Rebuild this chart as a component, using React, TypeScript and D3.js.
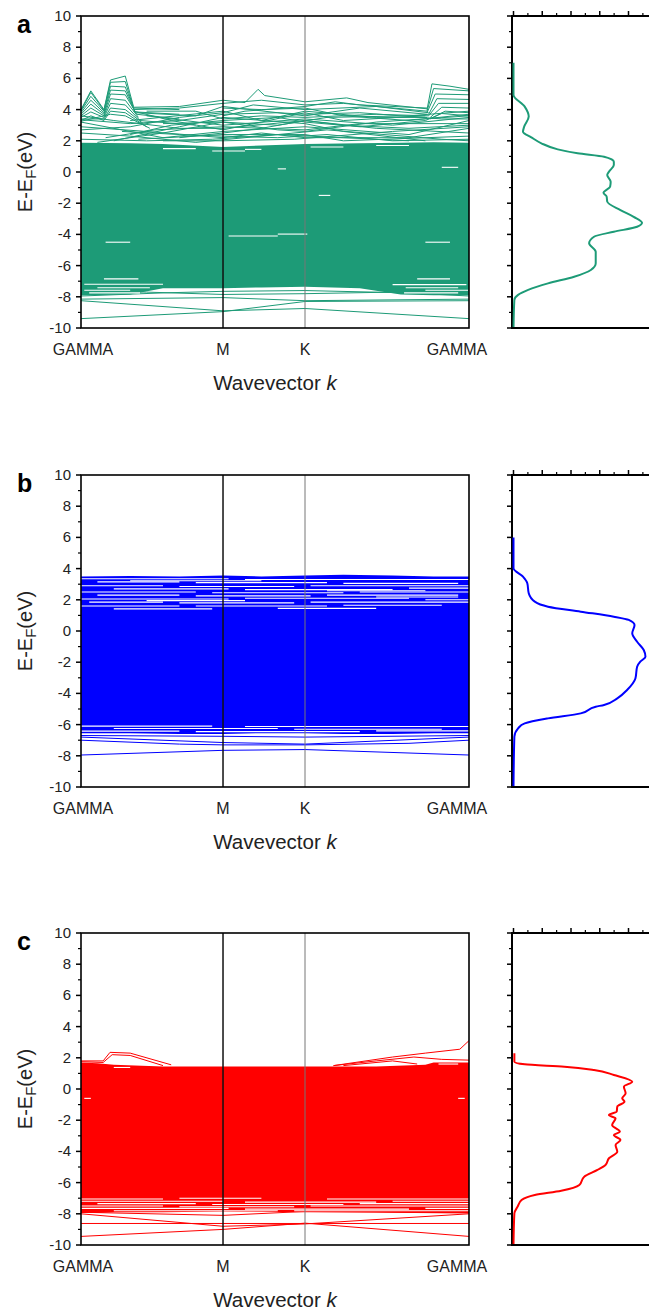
import * as d3 from "d3";

// page + layout
const W = 649;
const H = 1315;
const PANEL_TOPS = [16, 475, 933];
const PLOT_H = 312;
const BAND_L = 81;
const BAND_R = 469;
const DOS_L = 512;
const FONT = "'Liberation Sans', Arial, sans-serif";

// axes
const K_TICKS = [0, 0.866, 1.366, 2.366];
const K_LABELS = ["GAMMA", "M", "K", "GAMMA"];
const K_LABEL_DX = [2, 0, 0, -12];
const E_MAJOR = [-10, -8, -6, -4, -2, 0, 2, 4, 6, 8, 10];
const E_MINOR = [-9, -7, -5, -3, -1, 1, 3, 5, 7, 9];
const DOS_MAJOR = [0, 1, 2, 3, 4, 5, 6];
const DOS_MINOR = [0.5, 1.5, 2.5, 3.5, 4.5, 5.5];

const LABELS = ["a", "b", "c"];
const COLORS = ["#1d9b77", "#0000ff", "#ff0000"];

// dense (unresolved) band manifold: [k, top, bottom]
const denseA: [number, number, number][] = [
  [0, 1.88, -7.9], [0.3, 1.85, -7.85], [0.5, 1.8, -7.45], [0.866, 1.6, -7.45],
  [1.1, 1.7, -7.4], [1.366, 1.8, -7.35], [1.7, 1.85, -7.45], [1.95, 1.88, -7.85],
  [2.15, 1.9, -7.9], [2.366, 1.88, -7.9],
];
const denseB: [number, number, number][] = [
  [0, 3.5, -6.55], [0.3, 3.52, -6.55], [0.6, 3.5, -6.6], [0.866, 3.55, -6.6],
  [1.1, 3.5, -6.55], [1.366, 3.55, -6.55], [1.6, 3.6, -6.6], [1.9, 3.55, -6.6],
  [2.15, 3.5, -6.55], [2.366, 3.5, -6.55],
];
const denseC: [number, number, number][] = [
  [0, 1.7, -7.95], [0.1, 1.65, -7.95], [0.2, 1.55, -7.9], [0.5, 1.45, -7.9],
  [0.866, 1.45, -7.85], [1.366, 1.45, -7.9], [1.8, 1.45, -7.9], [2.1, 1.55, -7.95],
  [2.15, 1.7, -7.95], [2.366, 1.7, -7.95],
];

// resolved bands: [k, E] points
const bandsA: [number, number][][] = [
  [[0, 4.0], [0.06, 5.2], [0.14, 4.0], [0.18, 5.9], [0.27, 6.15], [0.32, 4.2]],
  [[0, 3.95], [0.06, 5.1], [0.14, 3.95], [0.18, 5.75], [0.27, 5.8], [0.32, 4.1], [0.6, 4.0]],
  [[0, 3.9], [0.06, 4.85], [0.14, 3.9], [0.18, 5.5], [0.27, 5.45], [0.325, 4.0]],
  [[0, 3.8], [0.06, 4.6], [0.14, 3.8], [0.18, 5.25], [0.27, 5.2], [0.33, 3.85], [0.6, 3.7]],
  [[0, 3.7], [0.06, 4.35], [0.14, 3.7], [0.18, 5.0], [0.27, 4.95], [0.34, 3.7], [0.6, 3.4]],
  [[0, 3.6], [0.06, 4.1], [0.14, 3.6], [0.18, 4.7], [0.27, 4.6], [0.35, 3.5]],
  [[0, 3.5], [0.06, 3.85], [0.14, 3.5], [0.18, 4.4], [0.27, 4.3], [0.36, 3.3], [0.7, 3.0]],
  [[0, 3.4], [0.14, 3.4], [0.18, 4.1], [0.27, 4.0], [0.38, 3.1]],
  [[0, 3.3], [0.06, 3.6], [0.14, 3.3], [0.18, 3.9], [0.27, 3.8], [0.4, 2.9]],
  [[0, 3.25], [0.18, 3.7], [0.27, 3.6], [0.42, 2.8]],
  [[0.32, 4.15], [0.6, 4.2], [0.866, 4.6], [1.0, 4.45], [1.08, 5.3], [1.12, 4.9], [1.366, 4.5], [1.62, 4.75], [1.75, 4.45], [2.11, 4.05]],
  [[0.32, 4.0], [0.6, 4.1], [0.866, 4.4], [1.1, 4.6], [1.366, 4.3], [1.6, 4.4], [2.11, 3.9]],
  [[0.34, 3.8], [0.7, 3.6], [0.866, 4.2], [1.366, 3.6], [1.7, 4.1], [2.11, 3.7]],
  [[0.3, 3.3], [0.866, 3.9], [1.1, 3.3], [1.366, 3.9], [1.8, 3.5], [2.11, 3.5]],
  [[0.4, 3.6], [0.866, 3.0], [1.366, 3.4], [1.9, 3.0], [2.366, 3.5]],
  [[0, 3.2], [0.5, 2.2], [0.866, 2.6], [1.366, 2.9], [2.0, 2.4], [2.366, 3.3]],
  [[0.1, 1.9], [0.5, 2.5], [0.866, 3.2], [1.2, 2.7], [1.366, 2.6], [1.8, 3.2], [2.366, 3.6]],
  [[0, 2.9], [0.4, 2.6], [0.866, 2.2], [1.1, 2.5], [1.366, 2.2], [2.0, 2.2], [2.366, 2.8]],
  [[0.2, 2.0], [0.6, 2.9], [0.866, 3.5], [1.366, 3.1], [1.6, 2.6], [2.1, 2.0]],
  [[0, 3.35], [0.3, 3.1], [0.6, 3.3], [0.866, 3.7], [1.2, 3.8], [1.366, 3.7], [1.7, 3.8], [2.2, 3.4], [2.366, 3.4]],
  [[0.35, 2.1], [0.866, 2.4], [1.366, 2.4], [1.6, 2.0], [2.366, 2.3]],
  [[0.5, 2.0], [0.866, 2.0], [1.3, 2.1], [1.9, 2.6], [2.366, 2.9]],
  [[0, 3.6], [0.2, 3.3], [0.6, 2.8], [0.866, 2.8], [1.366, 3.3], [1.8, 2.8], [2.366, 2.5]],
  [[0.866, 4.1], [1.1, 4.0], [1.366, 4.1], [1.6, 3.6], [2.0, 3.3], [2.366, 3.7]],
  [[0, 2.5], [0.3, 2.3], [0.7, 1.9], [1.0, 2.2], [1.5, 2.7], [2.2, 2.1], [2.366, 2.0]],
  [[0.32, 3.9], [0.55, 3.3], [0.866, 2.7], [1.1, 3.2], [1.366, 3.8], [1.6, 3.3], [2.1, 3.6]],
  [[0.3, 2.4], [0.55, 3.0], [0.866, 3.3], [1.2, 3.5], [1.366, 3.2], [1.7, 2.9], [2.1, 3.3]],
  [[0, 2.7], [0.3, 2.9], [0.6, 3.5], [0.866, 3.8], [1.05, 4.3], [1.366, 4.0], [1.8, 4.2], [2.12, 3.8]],
  [[0.15, 2.2], [0.45, 2.7], [0.866, 2.9], [1.366, 2.7], [1.7, 3.1], [2.366, 3.1]],
  [[0.25, 2.6], [0.6, 2.4], [0.866, 2.3], [1.2, 2.2], [1.5, 2.4], [1.9, 2.0], [2.366, 2.1]],
  [[0.6, 2.2], [0.866, 2.5], [1.1, 2.8], [1.366, 3.3], [1.6, 3.0], [2.0, 2.8], [2.366, 3.0]],
  [[0, 2.1], [0.4, 2.0], [0.8, 2.1], [1.2, 2.4], [1.6, 2.2], [2.0, 2.0]],
  [[0.866, 3.6], [1.0, 3.9], [1.366, 4.2], [1.55, 4.5], [1.7, 4.3], [2.11, 4.1]],
  [[0.4, 3.9], [0.7, 3.9], [0.866, 3.4], [1.1, 3.6], [1.366, 3.5], [1.8, 3.7], [2.12, 3.6]],
  [[0.5, 3.1], [0.866, 3.2], [1.2, 3.0], [1.5, 3.5], [2.0, 3.6], [2.366, 3.9]],
  [[2.11, 4.0], [2.14, 5.65], [2.25, 5.5], [2.366, 5.3]],
  [[2.11, 3.9], [2.15, 5.35], [2.366, 5.2]],
  [[2.11, 3.8], [2.16, 5.0], [2.366, 4.95]],
  [[2.12, 3.7], [2.17, 4.7], [2.366, 4.65]],
  [[2.12, 3.6], [2.18, 4.4], [2.366, 4.4]],
  [[2.13, 3.5], [2.2, 4.15], [2.366, 4.1]],
  [[2.13, 3.4], [2.22, 3.9], [2.366, 3.8]],
  [[2.1, 3.3], [2.2, 3.75], [2.366, 3.6]],
  [[0, -7.95], [0.5, -7.75], [0.866, -7.65], [1.366, -7.6], [2.0, -7.75], [2.366, -7.95]],
  [[0, -7.6], [0.4, -7.7], [0.866, -7.85], [1.366, -7.8], [1.9, -7.7], [2.366, -7.6]],
  [[0, -8.15], [0.866, -8.05], [1.366, -8.25], [2.366, -8.15]],
  [[0, -8.25], [0.866, -8.9], [1.366, -8.75], [2.366, -9.4]],
  [[0, -9.4], [0.866, -8.95], [1.366, -8.3], [2.366, -8.25]],
];

const bandsB: [number, number][][] = [
  [[0, -6.7], [0.866, -6.75], [1.366, -6.8], [2.366, -6.7]],
  [[0, -6.8], [0.866, -7.15], [1.366, -7.25], [2.366, -6.8]],
  [[0, -7.0], [0.6, -7.25], [0.866, -7.3], [1.366, -7.3], [2.0, -7.2], [2.366, -7.0]],
  [[0, -7.95], [0.866, -7.65], [1.366, -7.6], [2.366, -7.95]],
];

const bandsC: [number, number][][] = [
  [[0, 1.8], [0.135, 1.8], [0.177, 2.35], [0.3, 2.3], [0.55, 1.55]],
  [[0, 1.75], [0.135, 1.7], [0.19, 2.2], [0.3, 2.15], [0.5, 1.5]],
  [[1.54, 1.5], [1.9, 2.05], [2.1, 2.3], [2.31, 2.55], [2.366, 3.1]],
  [[1.54, 1.5], [1.8, 1.8], [2.03, 2.05], [2.2, 1.9], [2.366, 1.85]],
  [[1.6, 1.5], [1.9, 1.8], [2.05, 1.6]],
  [[0, -7.9], [0.866, -8.1], [1.366, -7.85], [2.366, -7.95]],
  [[0, -9.45], [0.866, -9.0], [1.366, -8.6], [2.366, -9.45]],
  [[0, -8.0], [0.866, -8.8], [1.366, -8.65], [2.366, -8.0]],
  [[0, -8.62], [2.366, -8.62]],
];

// white gaps inside the dense manifold: [k0, k1, E]
const gapsA: [number, number, number][] = [
  [0.15, 0.3, -4.5], [2.1, 2.25, -4.5], [1.2, 1.38, -3.98], [0.9, 1.2, -4.1],
  [0.14, 0.35, -6.85], [2.05, 2.25, -6.85], [1.45, 1.52, -1.5],
  [1.2, 1.25, 0.2], [0.5, 0.7, 1.5], [1.0, 1.1, 1.45], [1.4, 1.6, 1.6],
  [1.8, 2.0, 1.7], [0.8, 1.0, 1.35], [2.2, 2.3, 0.3],
  [0.02, 0.5, -7.2], [0.1, 0.42, -7.42], [0.02, 0.3, -7.58], [0.05, 0.36, -7.75],
  [1.9, 2.35, -7.22], [1.98, 2.3, -7.42], [2.1, 2.36, -7.58], [1.97, 2.3, -7.75],
];
const gapsB: [number, number, number][] = [
  [0, 0.9, 3.35], [1.0, 2.366, 3.3], [0.1, 0.6, 3.15], [0.7, 1.5, 3.1], [1.6, 2.3, 3.05],
  [0, 0.5, 2.9], [0.6, 1.3, 2.85], [1.4, 2.366, 2.9], [0.2, 0.9, 2.7], [1.0, 1.9, 2.65],
  [2.0, 2.366, 2.75], [0, 0.7, 2.5], [0.8, 1.6, 2.45], [1.7, 2.366, 2.5], [0.1, 0.6, 2.3],
  [0.7, 1.4, 2.25], [1.5, 2.3, 2.3], [0, 0.9, 2.05], [1.0, 2.0, 2.1], [2.1, 2.366, 2.0],
  [0.05, 0.5, 1.85], [0.6, 1.3, 1.8], [1.4, 2.366, 1.85], [0, 0.6, 1.6], [0.7, 1.5, 1.6],
  [1.6, 2.2, 1.65], [0.2, 0.8, 1.42], [1.2, 1.8, 1.45], [0.3, 1.1, 3.22], [1.5, 2.1, 2.58],
  [0.4, 1.0, 1.95], [1.8, 2.3, 2.18],
  [0, 0.8, -6.1], [1.0, 2.366, -6.12], [0.2, 1.2, -6.25], [1.3, 2.2, -6.3],
  [0, 0.6, -6.42], [0.7, 1.7, -6.45], [1.8, 2.366, -6.4],
];
const gapsC: [number, number, number][] = [
  [0.2, 0.3, 1.38], [2.18, 2.3, 1.6], [0.02, 0.06, -0.6], [2.3, 2.34, -0.6],
  [0, 0.5, -7.05], [0.6, 1.1, -7.0], [1.5, 2.366, -7.05], [0, 0.866, -7.2], [1.0, 1.8, -7.25],
  [1.9, 2.366, -7.2], [0.1, 0.7, -7.35], [0.8, 1.6, -7.4], [1.7, 2.366, -7.35], [0, 0.5, -7.5],
  [0.6, 1.3, -7.55], [1.4, 2.366, -7.5], [0, 0.9, -7.65], [1.0, 2.0, -7.7], [2.1, 2.366, -7.65],
  [0.2, 1.2, -7.8], [1.3, 2.366, -7.8],
];

// density of states: [E, DOS]
const dosA: [number, number][] = [
  [7.0, 0], [4.94, 0], [4.19, 0.39], [3.55, 0.53], [2.9, 0.37], [2.58, 0.33], [2.22, 0.62],
  [1.84, 0.97], [1.45, 1.54], [1.2, 2.23], [0.98, 3.15], [0.66, 3.49], [0.45, 3.49],
  [0.02, 3.32], [-0.19, 3.26], [-0.62, 3.38], [-0.94, 3.36], [-1.33, 3.13], [-1.58, 3.24],
  [-1.9, 3.26], [-2.44, 3.72], [-2.87, 4.18], [-3.25, 4.47], [-3.51, 4.3], [-3.83, 3.49],
  [-4.15, 2.8], [-4.57, 2.63], [-5.11, 2.86], [-5.85, 2.86], [-6.28, 2.69], [-6.71, 2.11],
  [-7.14, 1.2], [-7.56, 0.51], [-7.88, 0.16], [-8.2, 0.03], [-10, 0],
];
const dosB: [number, number][] = [
  [6.0, 0], [4.02, 0], [3.48, 0.33], [3.06, 0.48], [2.42, 0.53], [1.88, 0.74], [1.56, 1.2],
  [1.24, 2.34], [0.92, 3.49], [0.71, 4.01], [0.38, 4.21], [-0.15, 4.13], [-0.69, 4.3],
  [-1.22, 4.53], [-1.65, 4.59], [-1.97, 4.41], [-2.29, 4.3], [-3.04, 4.24], [-3.78, 3.95],
  [-4.32, 3.61], [-4.74, 3.15], [-4.85, 2.86], [-5.28, 2.34], [-5.6, 1.2], [-5.92, 0.39],
  [-6.24, 0.16], [-6.78, 0.03], [-10, 0],
];
const dosC: [number, number][] = [
  [2.29, 0.03], [1.75, 0.03], [1.58, 0.39], [1.43, 1.77], [1.22, 2.8], [0.9, 3.49],
  [0.47, 4.13], [0.15, 3.84], [-0.28, 3.9], [-0.6, 3.78], [-0.82, 3.86], [-1.13, 3.61],
  [-1.45, 3.59], [-1.67, 3.32], [-1.88, 3.55], [-2.31, 3.43], [-2.74, 3.7], [-2.95, 3.49],
  [-3.27, 3.72], [-3.59, 3.55], [-4.02, 3.61], [-4.44, 3.32], [-4.87, 3.2], [-5.19, 2.92],
  [-5.62, 2.46], [-6.15, 2.29], [-6.52, 1.66], [-6.79, 0.74], [-7.12, 0.28], [-7.55, 0.14],
  [-7.97, 0.03], [-10, 0],
];

const DENSE = [denseA, denseB, denseC];
const BANDS = [bandsA, bandsB, bandsC];
const GAPS = [gapsA, gapsB, gapsC];
const DOS = [dosA, dosB, dosC];

const kScale = d3.scaleLinear().domain([0, 2.366]).range([BAND_L, BAND_R]);
const dosScale = d3.scaleLinear().domain([0, 6]).range([DOS_L + 1.5, DOS_L + 174]);

const Panel = ({ i }: { i: number }) => {
  const top = PANEL_TOPS[i];
  const bottom = top + PLOT_H;
  const color = COLORS[i];
  const yScale = d3.scaleLinear().domain([-10, 10]).range([bottom, top]);

  const area = d3
    .area<[number, number, number]>()
    .x((d) => kScale(d[0]))
    .y0((d) => yScale(d[2]))
    .y1((d) => yScale(d[1]));
  const bandLine = d3
    .line<[number, number]>()
    .x((d) => kScale(d[0]))
    .y((d) => yScale(d[1]));
  const dosLine = d3
    .line<[number, number]>()
    .x((d) => dosScale(d[1]))
    .y((d) => yScale(d[0]))
    .curve(d3.curveMonotoneY);

  return (
    <g>
      <text x={17} y={top + 17} fontFamily={FONT} fontSize={25} fontWeight="bold">
        {LABELS[i]}
      </text>

      {/* band structure */}
      <path d={area(DENSE[i]) ?? ""} fill={color} />
      {BANDS[i].map((b, j) => (
        <path key={j} d={bandLine(b) ?? ""} fill="none" stroke={color} strokeWidth={1} />
      ))}
      {GAPS[i].map((g, j) => (
        <line
          key={j}
          x1={kScale(g[0])}
          x2={kScale(g[1])}
          y1={yScale(g[2])}
          y2={yScale(g[2])}
          stroke="#fff"
          strokeWidth={1.1}
        />
      ))}
      <line x1={kScale(K_TICKS[1])} x2={kScale(K_TICKS[1])} y1={top} y2={bottom} stroke="#111" strokeWidth={1.5} />
      <line x1={kScale(K_TICKS[2])} x2={kScale(K_TICKS[2])} y1={top} y2={bottom} stroke="#777" strokeWidth={1} />
      <rect x={BAND_L} y={top} width={BAND_R - BAND_L} height={PLOT_H} fill="none" stroke="#000" strokeWidth={1.6} />

      {E_MAJOR.map((e) => (
        <g key={e}>
          <line x1={BAND_L - 5} x2={BAND_L} y1={yScale(e)} y2={yScale(e)} stroke="#000" strokeWidth={1.5} />
          <text x={BAND_L - 10} y={yScale(e) + 5} textAnchor="end" fontFamily={FONT} fontSize={15} fill="#222">
            {e}
          </text>
          <line x1={DOS_L - 5} x2={DOS_L} y1={yScale(e)} y2={yScale(e)} stroke="#000" strokeWidth={1.5} />
        </g>
      ))}
      {E_MINOR.map((e) => (
        <g key={e}>
          <line x1={BAND_L - 3} x2={BAND_L} y1={yScale(e)} y2={yScale(e)} stroke="#000" strokeWidth={1.2} />
          <line x1={DOS_L - 3} x2={DOS_L} y1={yScale(e)} y2={yScale(e)} stroke="#000" strokeWidth={1.2} />
        </g>
      ))}

      {K_TICKS.map((k, j) => (
        <text
          key={j}
          x={kScale(k) + K_LABEL_DX[j]}
          y={bottom + 27}
          textAnchor="middle"
          fontFamily={FONT}
          fontSize={16}
          fill="#222"
        >
          {K_LABELS[j]}
        </text>
      ))}
      <text x={(BAND_L + BAND_R) / 2} y={bottom + 62} textAnchor="middle" fontFamily={FONT} fontSize={20.5} fill="#222">
        Wavevector <tspan fontStyle="italic">k</tspan>
      </text>
      <text
        transform={`translate(32, ${(top + bottom) / 2}) rotate(-90)`}
        textAnchor="middle"
        fontFamily={FONT}
        fontSize={20}
        fill="#222"
      >
        E-E
        <tspan dy={4} fontSize={15}>F</tspan>
        <tspan dy={-4}>(eV)</tspan>
      </text>

      {/* density of states */}
      <line x1={DOS_L} x2={DOS_L} y1={top} y2={bottom} stroke="#000" strokeWidth={2} />
      <path d={dosLine(DOS[i]) ?? ""} fill="none" stroke={color} strokeWidth={2} />
      <line x1={DOS_L - 1} x2={W + 10} y1={top} y2={top} stroke="#000" strokeWidth={2} />
      <line x1={DOS_L - 1} x2={W + 10} y1={bottom} y2={bottom} stroke="#000" strokeWidth={2} />
      {DOS_MAJOR.map((v) => (
        <line key={v} x1={dosScale(v)} x2={dosScale(v)} y1={top - 5} y2={top} stroke="#000" strokeWidth={1.5} />
      ))}
      {DOS_MINOR.map((v) => (
        <line key={v} x1={dosScale(v)} x2={dosScale(v)} y1={top - 3} y2={top} stroke="#000" strokeWidth={1.2} />
      ))}
    </g>
  );
};

export default function App() {
  return (
    <svg
      width={W}
      height={H}
      style={{ position: "absolute", left: 0, top: 0, background: "#fff" }}
    >
      <rect width={W} height={H} fill="#fff" />
      {[0, 1, 2].map((i) => (
        <Panel key={i} i={i} />
      ))}
    </svg>
  );
}
